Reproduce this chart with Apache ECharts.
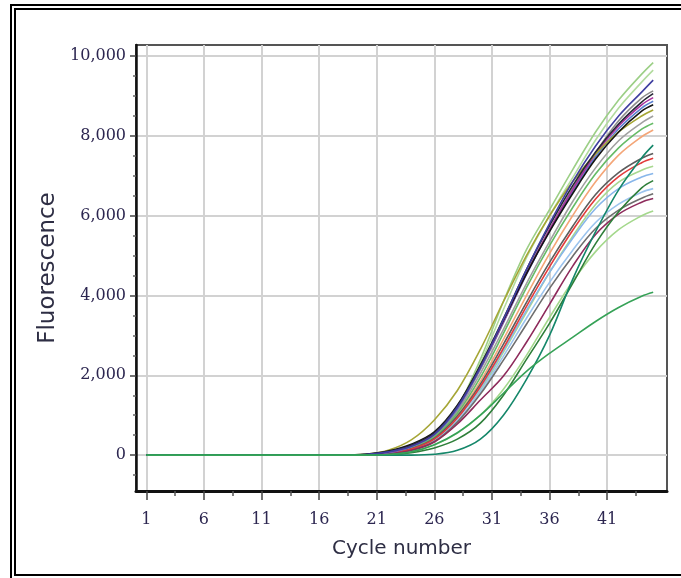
<!DOCTYPE html>
<html>
<head>
  <meta http-equiv="Content-Type" content="text/html; charset=UTF-8">
  <title>Fluorescence vs cycle number</title>
  <script src="https://cdn.jsdelivr.net/npm/echarts@6/dist/echarts.min.js"></script>
  <style>
    html, body { margin: 0; padding: 0; background: #fff; overflow: hidden; }
    #wrap { position: relative; width: 681px; height: 578px; overflow: hidden; }
    #main { position: absolute; left: 0; top: 0; width: 681px; height: 578px; }
    #frame {
      position: absolute; left: 10px; top: 4px; width: 720px; height: 576px;
      box-sizing: border-box; border: 6px double #000; border-right: none;
      pointer-events: none;
    }
  </style>
</head>
<body>
  <div id="wrap">
    <div id="main"></div>
    <div id="frame"></div>
  </div>

  <script type="text/javascript">
    var cycles = [1, 18, 20, 22, 24, 26, 28, 30, 32, 34, 36, 38, 40, 42, 44, 45];

    var xTicks = [1, 6, 11, 16, 21, 26, 31, 36, 41];
    var xMinorTicks = [3.5, 8.5, 13.5, 18.5, 23.5, 28.5, 33.5, 38.5, 43.5];
    var yTicks = [0, 2000, 4000, 6000, 8000, 10000];
    var yMinorTicks = [-500, 500, 1000, 1500, 2500, 3000, 3500, 4500, 5000, 5500,
      6500, 7000, 7500, 8500, 9000, 9500];

    // fluorescence readings, one array per well
    var lightGreenA = [0, 0, 10, 60, 180, 500, 1200, 2400, 3850, 5150, 6150, 7150, 8100, 8900, 9550, 9840];
    var lightGreenB = [0, 0, 5, 50, 170, 480, 1150, 2300, 3650, 4950, 6000, 6950, 7900, 8700, 9350, 9650];
    var lightGreenLow = [0, 0, 0, 15, 80, 250, 550, 1000, 1650, 2500, 3450, 4350, 5100, 5650, 6000, 6120];
    var lightGreenC = [0, 0, 0, 20, 110, 330, 820, 1620, 2580, 3580, 4580, 5480, 6280, 6840, 7140, 7240];
    var lightBlue1 = [0, 0, 5, 40, 150, 400, 920, 1680, 2630, 3630, 4580, 5430, 6180, 6680, 6970, 7060];
    var lightBlue2 = [0, 0, 5, 30, 130, 360, 860, 1580, 2480, 3430, 4330, 5130, 5830, 6290, 6590, 6680];
    var orange = [0, 0, 5, 40, 160, 430, 1000, 1850, 2900, 4000, 5050, 6000, 6850, 7520, 7980, 8150];
    var gray3 = [0, 0, 5, 50, 190, 480, 1100, 2050, 3150, 4300, 5350, 6350, 7200, 7880, 8330, 8500];
    var gray1 = [0, 0, 10, 60, 200, 500, 1150, 2150, 3320, 4550, 5650, 6680, 7580, 8380, 8950, 9130];
    var green = [0, 0, 5, 40, 170, 450, 1050, 1950, 3050, 4200, 5250, 6200, 7050, 7700, 8170, 8320];
    var gray4 = [0, 0, 5, 30, 120, 340, 830, 1530, 2380, 3280, 4180, 4980, 5680, 6140, 6440, 6550];
    var darkGray = [0, 0, 5, 40, 160, 420, 980, 1780, 2780, 3830, 4830, 5730, 6530, 7080, 7440, 7560];
    var red = [0, 0, 5, 40, 150, 400, 930, 1720, 2680, 3730, 4720, 5630, 6420, 6980, 7330, 7440];
    var maroon = [0, 0, 5, 30, 120, 330, 780, 1380, 1980, 2830, 3780, 4730, 5530, 6040, 6340, 6430];
    var blue = [0, 0, 10, 60, 210, 520, 1170, 2180, 3330, 4530, 5620, 6600, 7480, 8180, 8700, 8870];
    var purple = [0, 0, 10, 70, 230, 540, 1200, 2200, 3350, 4550, 5650, 6650, 7550, 8250, 8780, 8960];
    var olive = [0, 0, 20, 120, 380, 880, 1620, 2650, 3850, 5000, 6000, 6850, 7550, 8100, 8500, 8650];
    var black = [0, 0, 20, 100, 270, 580, 1250, 2250, 3380, 4550, 5600, 6550, 7420, 8100, 8620, 8780];
    var dark = [0, 0, 15, 90, 250, 560, 1230, 2250, 3420, 4650, 5750, 6750, 7600, 8300, 8850, 9060];
    var navy = [0, 0, 15, 80, 220, 520, 1200, 2200, 3400, 4650, 5800, 6850, 7750, 8500, 9100, 9400];
    var darkGreen = [0, 0, 0, 10, 60, 180, 400, 800, 1500, 2400, 3300, 4300, 5300, 6100, 6700, 6880];
    var teal = [0, 0, 0, 0, 0, 20, 120, 400, 1000, 1900, 3000, 4400, 5600, 6650, 7450, 7770];
    var lowGreen = [0, 0, 0, 15, 80, 260, 560, 1000, 1550, 2100, 2550, 2950, 3350, 3700, 3980, 4080];

    // drawing order: last one ends up on top (green baseline)
    var wells = [
      ['A', lightGreenA, '#9ccf86'],
      ['B', lightGreenB, '#b2db9e'],
      ['C', lightGreenLow, '#a4d88c'],
      ['D', lightGreenC, '#a8d890'],
      ['E', lightBlue1, '#88b6ea'],
      ['F', lightBlue2, '#9cc4ee'],
      ['G', orange, '#f4a678'],
      ['H', gray3, '#a0a0a0'],
      ['I', gray1, '#8c8c8c'],
      ['J', green, '#66bb66'],
      ['K', gray4, '#6e6e6e'],
      ['L', darkGray, '#5e5e5e'],
      ['M', red, '#e23c3c'],
      ['N', maroon, '#8e2b5c'],
      ['O', blue, '#5a7fd0'],
      ['P', purple, '#a8309e'],
      ['Q', olive, '#a6a636'],
      ['R', black, '#151515'],
      ['S', dark, '#262636'],
      ['T', navy, '#3f3fa0'],
      ['U', darkGreen, '#2f7f3a'],
      ['V', teal, '#15876a'],
      ['W', lowGreen, '#36a257']
    ];

    var myChart = echarts.init(document.getElementById('main'));

    var series = wells.map(function (w) {
      return {
        name: w[0],
        type: 'line',
        xAxisIndex: 0,
        yAxisIndex: 0,
        smooth: 0.35,
        showSymbol: false,
        lineStyle: { color: w[2], width: 1.6 },
        data: cycles.map(function (c, i) { return [c, w[1][i]]; })
      };
    });

    var labelFont = {
      fontFamily: 'DejaVu Serif',
      fontSize: 16,
      color: '#2c2650'
    };

    var option = {
      animation: false,
      backgroundColor: 'transparent',
      grid: {
        left: 136,
        right: 14,
        top: 45,
        bottom: 87,
        show: true,
        borderColor: '#555',
        borderWidth: 2
      },
      xAxis: [{
        type: 'value',
        min: 0.1,
        max: 46.2,
        name: 'Cycle number',
        nameLocation: 'middle',
        nameGap: 48,
        nameTextStyle: { fontFamily: 'DejaVu Sans', fontSize: 20, color: '#2e2e44' },
        axisLine: { onZero: false, lineStyle: { color: '#111', width: 3 } },
        axisTick: { customValues: xTicks, length: 9, lineStyle: { color: '#444', width: 1.5 } },
        axisLabel: Object.assign({ customValues: xTicks, margin: 21 }, labelFont),
        splitLine: { show: true, lineStyle: { color: '#d2d2d2', width: 2 } }
      }, {
        type: 'value',
        min: 0.1,
        max: 46.2,
        position: 'bottom',
        axisLine: { show: false, onZero: false },
        axisTick: { customValues: xMinorTicks, length: 5, lineStyle: { color: '#555', width: 1.5 } },
        axisLabel: { show: false },
        splitLine: { show: false }
      }],
      yAxis: [{
        type: 'value',
        min: -900,
        max: 10280,
        name: 'Fluorescence',
        nameLocation: 'middle',
        nameGap: 76,
        nameTextStyle: { fontFamily: 'DejaVu Sans', fontSize: 23, color: '#2e2e44' },
        axisLine: { show: true, onZero: false, lineStyle: { color: '#111', width: 2.5 } },
        axisTick: { show: true, customValues: yTicks, length: 6, lineStyle: { color: '#444', width: 1.5 } },
        axisLabel: Object.assign({
          customValues: yTicks,
          margin: 10,
          formatter: function (v) { return v.toLocaleString('en-US'); }
        }, labelFont),
        splitLine: { show: true, lineStyle: { color: '#d2d2d2', width: 2 } }
      }, {
        type: 'value',
        min: -900,
        max: 10280,
        position: 'left',
        axisLine: { show: false, onZero: false },
        axisTick: { show: true, customValues: yMinorTicks, length: 3, lineStyle: { color: '#666', width: 1.5 } },
        axisLabel: { show: false },
        splitLine: { show: false }
      }],
      series: series
    };

    myChart.setOption(option);
  </script>
</body>
</html>
